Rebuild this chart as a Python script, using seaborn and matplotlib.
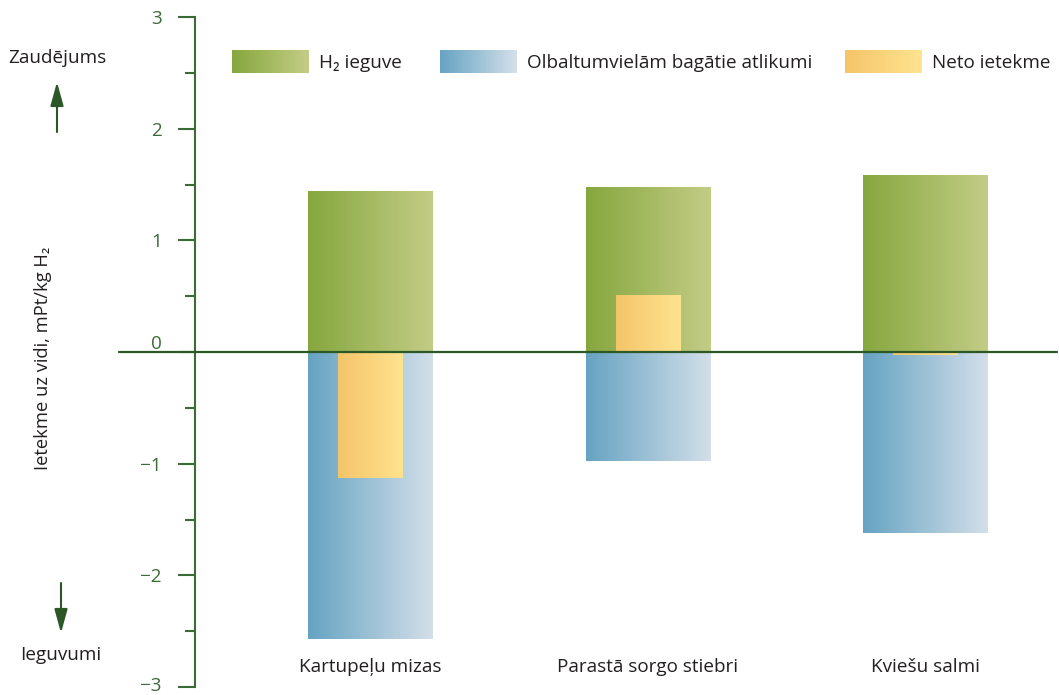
import numpy as np
import pandas as pd
import matplotlib
matplotlib.use("Agg")
import matplotlib.pyplot as plt
import seaborn as sns
from matplotlib.patches import Rectangle, Patch, FancyArrowPatch
from matplotlib.legend_handler import HandlerBase
from matplotlib.ticker import MultipleLocator, FixedLocator
from matplotlib.transforms import ScaledTranslation
from matplotlib.colors import to_rgb

# ---------------- data ----------------
categories = ["Kartupeļu mizas", "Parastā sorgo stiebri", "Kviešu salmi"]
h2_ieguve = [1.44, 1.47, 1.58]
olbaltum_atlikumi = [-2.57, -0.98, -1.62]
neto_ietekme = [-1.13, 0.51, -0.03]
series_names = ["H\u2082 ieguve", "Olbaltumvielām bagātie atlikumi", "Neto ietekme"]
yticks = [-3, -2, -1, 0, 1, 2, 3]
ytick_labels = ["\u22123", "\u22122", "\u22121", "0", "1", "2", "3"]
ylabel = "Ietekme uz vidi, mPt/kg H\u2082"
top_note = "Zaudējums"
bottom_note = "Ieguvumi"

# ---------------- style ----------------
sns.set_theme(style="white")
plt.rcParams["font.family"] = ["Open Sans", "DejaVu Sans"]
FS = 13.6
TXT = "#231F20"
AXG = "#3B6B36"
ZERO = "#2C5727"
grads = {
    "green": ("#86A73E", "#C3CC86"),
    "blue": ("#66A3C2", "#D3DFE9"),
    "yellow": ("#F4C46A", "#FEE38E"),
}

W, H = 1059, 695
fig = plt.figure(figsize=(W / 100, H / 100), dpi=100)
ax = fig.add_axes([195 / W, 1 - 687 / H, (1057 - 195) / W, (687 - 17) / H])

def grad_img(c0, c1, n=256):
    a, b = np.array(to_rgb(c0)), np.array(to_rgb(c1))
    t = np.linspace(0, 1, n)[:, None]
    return (a + (b - a) * t)[None, :, :]

def draw_series(values, width, key, z):
    df = pd.DataFrame({"kategorija": categories, "vertiba": values})
    before = len(ax.patches)
    sns.barplot(data=df, x="kategorija", y="vertiba", width=width, ax=ax,
                color=grads[key][0], errorbar=None, zorder=z)
    for p in ax.patches[before:]:
        x0, y0, w, h = p.get_x(), p.get_y(), p.get_width(), p.get_height()
        ylo, yhi = min(y0, y0 + h), max(y0, y0 + h)
        ax.imshow(grad_img(*grads[key]), extent=[x0, x0 + w, ylo, yhi],
                  aspect="auto", interpolation="bilinear", zorder=z)
        p.set_visible(False)

draw_series(h2_ieguve, 0.45, "green", 1)
draw_series(olbaltum_atlikumi, 0.45, "blue", 1)
draw_series(neto_ietekme, 0.234, "yellow", 2)

ax.set_xlim(-0.6324, 2.4739)
ax.set_ylim(-3, 3)
ax.set_xlabel("")

# zero line
ax.axhline(0, xmin=-0.088, xmax=1, color=ZERO, lw=1.6, zorder=5, clip_on=False)

# spines
for s in ["top", "right", "bottom"]:
    ax.spines[s].set_visible(False)
ax.spines["left"].set_color(AXG)
ax.spines["left"].set_linewidth(1.5)

# y ticks
ax.yaxis.set_major_locator(FixedLocator(yticks))
ax.set_yticklabels(ytick_labels)
ax.yaxis.set_minor_locator(MultipleLocator(0.5))
ax.tick_params(axis="y", which="major", length=12, width=1.5, color=AXG,
               labelcolor=AXG, labelsize=FS, pad=12, left=True)
ax.tick_params(axis="y", which="minor", length=7, width=1.5, color=AXG, left=True)
for lab, v in zip(ax.get_yticklabels(), yticks):
    if v == 0:
        lab.set_transform(lab.get_transform() + ScaledTranslation(0, 7 / 72, fig.dpi_scale_trans))
    elif v == -3:
        lab.set_transform(lab.get_transform() + ScaledTranslation(0, 2.5 / 72, fig.dpi_scale_trans))

# x tick labels inside the axes
ax.tick_params(axis="x", length=0, labelsize=FS, labelcolor=TXT, pad=-21)

# y label
ax.set_ylabel(ylabel, fontsize=13.2, color=TXT)
ax.yaxis.set_label_coords(-0.166, 0.49)

# legend with gradient handles
class GradHandler(HandlerBase):
    def __init__(self, c0, c1):
        super().__init__()
        self.c0, self.c1 = np.array(to_rgb(c0)), np.array(to_rgb(c1))
    def create_artists(self, legend, orig_handle, xdescent, ydescent, width, height, fontsize, trans):
        n = 60
        arts = []
        for i in range(n):
            c = self.c0 + (self.c1 - self.c0) * i / (n - 1)
            arts.append(Rectangle((-xdescent + width * i / n, -ydescent), width / n * 1.08, height,
                                  facecolor=c, edgecolor="none", lw=0, transform=trans))
        return arts

fs_px = FS * 100 / 72
for name, key, xpix in zip(series_names, ["green", "blue", "yellow"], [232, 440, 845]):
    h = Patch(label=name)
    fig.legend(handles=[h], handler_map={h: GradHandler(*grads[key])}, loc="upper left",
               bbox_to_anchor=(xpix / W, 1 - 50 / H), bbox_transform=fig.transFigure,
               frameon=False, fontsize=FS, handlelength=77 / fs_px, handleheight=28 / fs_px,
               handletextpad=10 / fs_px, borderpad=0, borderaxespad=0, labelcolor=TXT)

# side notes and arrows
fig.text(57 / W, 1 - 58 / H, top_note, ha="center", va="center", fontsize=FS, color=TXT)
fig.text(61 / W, 1 - 655 / H, bottom_note, ha="center", va="center", fontsize=FS, color=TXT)
arr = dict(arrowstyle="-|>,head_length=1.45,head_width=0.4", color=ZERO, lw=1.5,
           mutation_scale=10, shrinkA=0, shrinkB=0)
fig.add_artist(FancyArrowPatch((57, H - 132), (57, H - 82), transform=None, **arr))
fig.add_artist(FancyArrowPatch((61, H - 583), (61, H - 633), transform=None, **arr))

fig.savefig("out.png", dpi=100)
